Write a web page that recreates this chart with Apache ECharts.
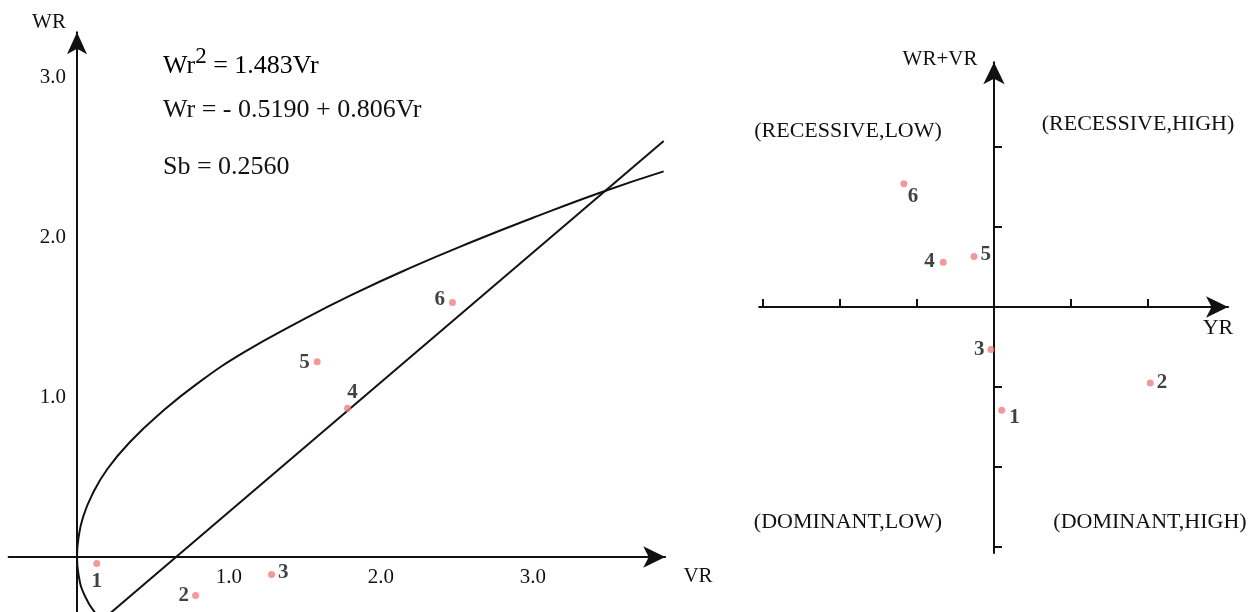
<!DOCTYPE html>
<html>
<head>
<meta charset="utf-8">
<script src="https://cdn.jsdelivr.net/npm/echarts@6/dist/echarts.min.js"></script>
<style>
html,body{margin:0;padding:0;background:#fff;}
#c{width:1253px;height:612px;}
</style>
</head>
<body>
<div id="c"></div>
<script>
// ---------- data ----------
const pointNames = ['1', '2', '3', '4', '5', '6'];
// left panel: Vr, Wr of each array point
const leftVr = [0.13, 0.78, 1.28, 1.78, 1.58, 2.47];
const leftWr = [-0.04, -0.24, -0.11, 0.93, 1.22, 1.59];
// limiting parabola Wr^2 = 1.483Vr
const parabolaVr = [0.12, 0.05, 0.01, 0.0, 0.01, 0.04, 0.10, 0.20, 0.35, 0.55, 0.80, 1.10, 1.45, 1.80, 2.20, 2.60, 3.00, 3.45, 3.86];
const parabolaWr = [-0.35, -0.24, -0.11, 0.0, 0.12, 0.25, 0.39, 0.55, 0.72, 0.90, 1.09, 1.28, 1.465, 1.635, 1.81, 1.97, 2.12, 2.28, 2.41];
// regression line Wr = -0.5190 + 0.806Vr, end points of the drawn line
const lineVr = [0.22, 3.86];
const lineWr = [-0.35, 2.60];
// left axis tick labels
const leftXTicks = [1, 2, 3];
const leftYTicks = [1, 2, 3];
// right panel: YR and WR+VR of each point
const rightYR = [0.10, 2.03, -0.04, -0.66, -0.26, -1.17];
const rightWV = [-1.29, -0.95, -0.53, 0.56, 0.63, 1.54];
const rightXTicks = [-3, -2, -1, 1, 2];
const rightYTicks = [-3, -2, -1, 1, 2];
// texts
const equations = ['Wr', '2', ' = 1.483Vr', 'Wr = - 0.5190 + 0.806Vr', 'Sb = 0.2560'];
const quadrantLabels = ['(RECESSIVE,LOW)', '(RECESSIVE,HIGH)', '(DOMINANT,LOW)', '(DOMINANT,HIGH)'];

// ---------- styles ----------
const FONT = "'Liberation Serif','Times New Roman',serif";
const DOT = '#f08080';
const leftLabelStyle = [
  {position: 'bottom', distance: 4, offset: [0, 0]},
  {position: 'left', distance: 3, offset: [0, 0]},
  {position: 'right', distance: 3, offset: [0, -2]},
  {position: 'top', distance: 2, offset: [5, 0]},
  {position: 'left', distance: 4, offset: [0, 1]},
  {position: 'left', distance: 4, offset: [0, -3]}
];
const rightLabelStyle = [
  {position: 'right', distance: 4, offset: [0, 7]},
  {position: 'right', distance: 3, offset: [0, 0]},
  {position: 'left', distance: 3, offset: [0, 0]},
  {position: 'left', distance: 5, offset: [0, -1]},
  {position: 'right', distance: 3, offset: [0, -2]},
  {position: 'bottom', distance: 0, offset: [9, -1]}
];

function pts(xs, ys) { return xs.map((x, i) => [x, ys[i]]); }
function labelled(xs, ys, styles) {
  return xs.map((x, i) => ({
    value: [x, ys[i]],
    name: pointNames[i],
    label: {show: true, formatter: pointNames[i], position: styles[i].position,
            distance: styles[i].distance, offset: styles[i].offset}
  }));
}

// left panel geometry
const L = {left: 8.6, top: 32.2, width: 656.6, height: 580.8, xMin: -0.45, xMax: 3.87, yMin: -0.35, yMax: 3.28};
const xZeroOffset = -(L.height * (0 - L.yMin) / (L.yMax - L.yMin));      // move label axis up to Wr = 0
const yZeroOffset = -(L.width * (0 - L.xMin) / (L.xMax - L.xMin));       // move label axis right to Vr = 0

const axisLineStyle = {color: '#111', width: 2};
const chart = echarts.init(document.getElementById('c'), null, {renderer: 'canvas'});
const hidden = {show: false};

const option = {
  backgroundColor: '#fff',
  animation: false,
  grid: [
    {left: L.left, top: L.top, width: L.width, height: L.height, containLabel: false, outerBoundsMode: 'none'},
    {left: 759.15, top: 62.2, width: 468.9, height: 490.8, containLabel: false, outerBoundsMode: 'none'}
  ],
  xAxis: [
    {
      type: 'value', gridIndex: 0, min: L.xMin, max: L.xMax,
      axisLine: {show: true, onZero: true, lineStyle: axisLineStyle, symbol: ['none', 'arrow'], symbolSize: [16, 22]},
      axisTick: hidden, splitLine: hidden, axisLabel: hidden
    },
    {
      type: 'value', gridIndex: 1, min: -3.05, max: 3.04,
      axisLine: {show: true, onZero: true, lineStyle: axisLineStyle, symbol: ['none', 'arrow'], symbolSize: [16, 22]},
      axisTick: {show: true, inside: true, length: 8, customValues: rightXTicks, lineStyle: {color: '#111', width: 2}},
      splitLine: hidden, axisLabel: hidden
    },
    {
      // tick labels of the left Vr axis
      type: 'value', gridIndex: 0, min: L.xMin, max: L.xMax, position: 'bottom', offset: xZeroOffset,
      axisLine: {show: false, onZero: false}, axisTick: hidden, splitLine: hidden,
      axisLabel: {show: true, customValues: leftXTicks, formatter: v => v.toFixed(1),
                  fontFamily: FONT, fontSize: 21, color: '#111', margin: 10}
    }
  ],
  yAxis: [
    {
      type: 'value', gridIndex: 0, min: L.yMin, max: L.yMax,
      axisLine: {show: true, onZero: true, lineStyle: axisLineStyle, symbol: ['none', 'arrow'], symbolSize: [15, 22]},
      axisTick: hidden, splitLine: hidden, axisLabel: hidden
    },
    {
      type: 'value', gridIndex: 1, min: -3.075, max: 3.06,
      axisLine: {show: true, onZero: true, lineStyle: axisLineStyle, symbol: ['none', 'arrow'], symbolSize: [16, 22]},
      axisTick: {show: true, inside: true, length: 8, customValues: rightYTicks, lineStyle: {color: '#111', width: 2}},
      splitLine: hidden, axisLabel: hidden
    },
    {
      // tick labels of the left Wr axis
      type: 'value', gridIndex: 0, min: L.yMin, max: L.yMax, position: 'left', offset: yZeroOffset,
      axisLine: {show: false, onZero: false}, axisTick: hidden, splitLine: hidden,
      axisLabel: {show: true, customValues: leftYTicks, formatter: v => v.toFixed(1),
                  fontFamily: FONT, fontSize: 21, color: '#111', margin: 11}
    }
  ],
  series: [
    {
      type: 'line', xAxisIndex: 0, yAxisIndex: 0, data: pts(parabolaVr, parabolaWr),
      smooth: 0.5, showSymbol: false, symbol: 'none', lineStyle: {color: '#111', width: 2}, z: 3
    },
    {
      type: 'line', xAxisIndex: 0, yAxisIndex: 0, data: pts(lineVr, lineWr),
      showSymbol: false, symbol: 'none', lineStyle: {color: '#111', width: 2}, z: 3
    },
    {
      type: 'scatter', xAxisIndex: 0, yAxisIndex: 0, data: labelled(leftVr, leftWr, leftLabelStyle),
      symbolSize: 7, itemStyle: {color: DOT}, z: 5,
      label: {color: '#111', fontFamily: FONT, fontWeight: 'bold', fontSize: 21}
    },
    {
      type: 'scatter', xAxisIndex: 1, yAxisIndex: 1, data: labelled(rightYR, rightWV, rightLabelStyle),
      symbolSize: 7, itemStyle: {color: DOT}, z: 5,
      label: {color: '#111', fontFamily: FONT, fontWeight: 'bold', fontSize: 21}
    }
  ],
  graphic: [
    // axis names
    {type: 'text', x: 49, y: 22, style: {text: 'WR', font: '21px ' + FONT, fill: '#111', align: 'center', verticalAlign: 'middle'}},
    {type: 'text', x: 698, y: 576, style: {text: 'VR', font: '21px ' + FONT, fill: '#111', align: 'center', verticalAlign: 'middle'}},
    {type: 'text', x: 940, y: 59, style: {text: 'WR+VR', font: '21px ' + FONT, fill: '#111', align: 'center', verticalAlign: 'middle'}},
    {type: 'text', x: 1218, y: 328, style: {text: 'YR', font: '22px ' + FONT, fill: '#111', align: 'center', verticalAlign: 'middle'}},
    // equations
    {type: 'text', x: 163, y: 62, style: {
      text: '{a|' + equations[0] + '}{s|' + equations[1] + '}{a|' + equations[2] + '}',
      verticalAlign: 'middle', align: 'left',
      rich: {
        a: {fontFamily: FONT, fontSize: 26, color: '#111', lineHeight: 34, verticalAlign: 'bottom'},
        s: {fontFamily: FONT, fontSize: 23, color: '#111', lineHeight: 24, verticalAlign: 'top'}
      }
    }},
    {type: 'text', x: 163, y: 110, style: {text: equations[3], font: '26px ' + FONT, fill: '#111', align: 'left', verticalAlign: 'middle'}},
    {type: 'text', x: 163, y: 167, style: {text: equations[4], font: '26px ' + FONT, fill: '#111', align: 'left', verticalAlign: 'middle'}},
    // quadrant labels
    {type: 'text', x: 848, y: 131, style: {text: quadrantLabels[0], font: '22px ' + FONT, fill: '#111', align: 'center', verticalAlign: 'middle'}},
    {type: 'text', x: 1138, y: 124, style: {text: quadrantLabels[1], font: '22px ' + FONT, fill: '#111', align: 'center', verticalAlign: 'middle'}},
    {type: 'text', x: 848, y: 522, style: {text: quadrantLabels[2], font: '22px ' + FONT, fill: '#111', align: 'center', verticalAlign: 'middle'}},
    {type: 'text', x: 1150, y: 522, style: {text: quadrantLabels[3], font: '22px ' + FONT, fill: '#111', align: 'center', verticalAlign: 'middle'}}
  ]
};
chart.setOption(option);
</script>
</body>
</html>
